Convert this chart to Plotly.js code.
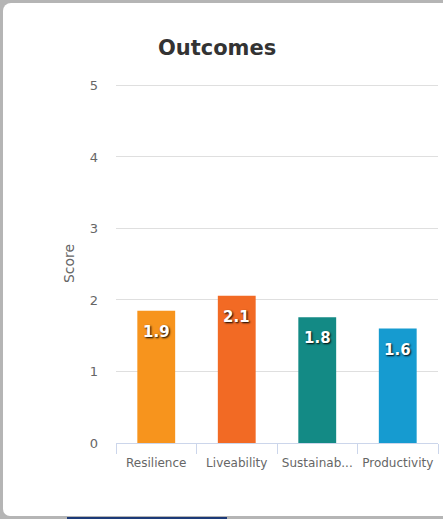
<!DOCTYPE html>
<html>
<head>
<meta charset="utf-8">
<script src="https://cdn.plot.ly/plotly-3.0.1.min.js"></script>
<style>
html,body{margin:0;padding:0;width:443px;height:519px;overflow:hidden;background:#b5b5b5;}
#frame{position:absolute;left:3px;top:3px;width:440px;height:513px;background:#fff;border-top-left-radius:8px;border-bottom-left-radius:7px;}
#bluebar{position:absolute;left:67px;top:517px;width:160px;height:2px;background:#1c3a78;}
#chart{position:absolute;left:0;top:0;width:443px;height:519px;}
</style>
</head>
<body>
<div id="frame"></div>
<div id="bluebar"></div>
<div id="chart"></div>
<script>
var categories = ['Resilience', 'Liveability', 'Sustainab...', 'Productivity'];
var scores = [1.85, 2.06, 1.76, 1.6];
var barColors = ['#f7941d', '#f26a24', '#138a85', '#169bd0'];
var yTicks = [0, 1, 2, 3, 4, 5];

var trace = {
  type: 'bar',
  x: categories,
  y: scores,
  marker: {color: barColors, line: {width: 0}},
  hoverinfo: 'none'
};

var annotations = categories.map(function (c, i) {
  return {
    x: c, y: scores[i], xref: 'x', yref: 'y',
    text: '<b>' + scores[i].toFixed(1) + '</b>',
    showarrow: false, yanchor: 'middle', yshift: -21,
    font: {family: 'DejaVu Sans, Verdana, sans-serif', size: 15, color: '#ffffff', shadow: '1px 1px 2px #000000'}
  };
});

var layout = {
  width: 443, height: 519,
  paper_bgcolor: 'rgba(0,0,0,0)',
  plot_bgcolor: 'rgba(0,0,0,0)',
  margin: {l: 116, r: 5, t: 84, b: 76},
  bargap: 0.53,
  showlegend: false,
  title: {
    text: '<b>Outcomes</b>',
    x: 0.49, xanchor: 'center', y: 0.909, yanchor: 'middle', yref: 'container',
    font: {family: 'DejaVu Sans, Verdana, sans-serif', size: 21, color: '#333333'}
  },
  xaxis: {
    type: 'category',
    showline: true, linecolor: '#ccd6eb', linewidth: 1,
    ticks: 'outside', tickson: 'boundaries', ticklen: 10, tickcolor: '#ccd6eb',
    tickangle: 0, ticklabelstandoff: 9,
    tickfont: {family: 'DejaVu Sans, Verdana, sans-serif', size: 12, color: '#666666'},
    showgrid: false, zeroline: false, fixedrange: true
  },
  yaxis: {
    range: [0, 5.02], tickvals: yTicks, ticktext: yTicks.map(String),
    showgrid: true, gridcolor: '#dfdfdf', gridwidth: 1,
    zeroline: false, showline: false, ticks: '',
    ticklabelstandoff: 17,
    tickfont: {family: 'DejaVu Sans, Verdana, sans-serif', size: 13, color: '#666666'},
    title: {text: 'Score', standoff: 11, font: {family: 'DejaVu Sans, Verdana, sans-serif', size: 14, color: '#666666'}},
    fixedrange: true
  },
  annotations: annotations
};

Plotly.newPlot('chart', [trace], layout, {displayModeBar: false, staticPlot: true});
</script>
</body>
</html>
